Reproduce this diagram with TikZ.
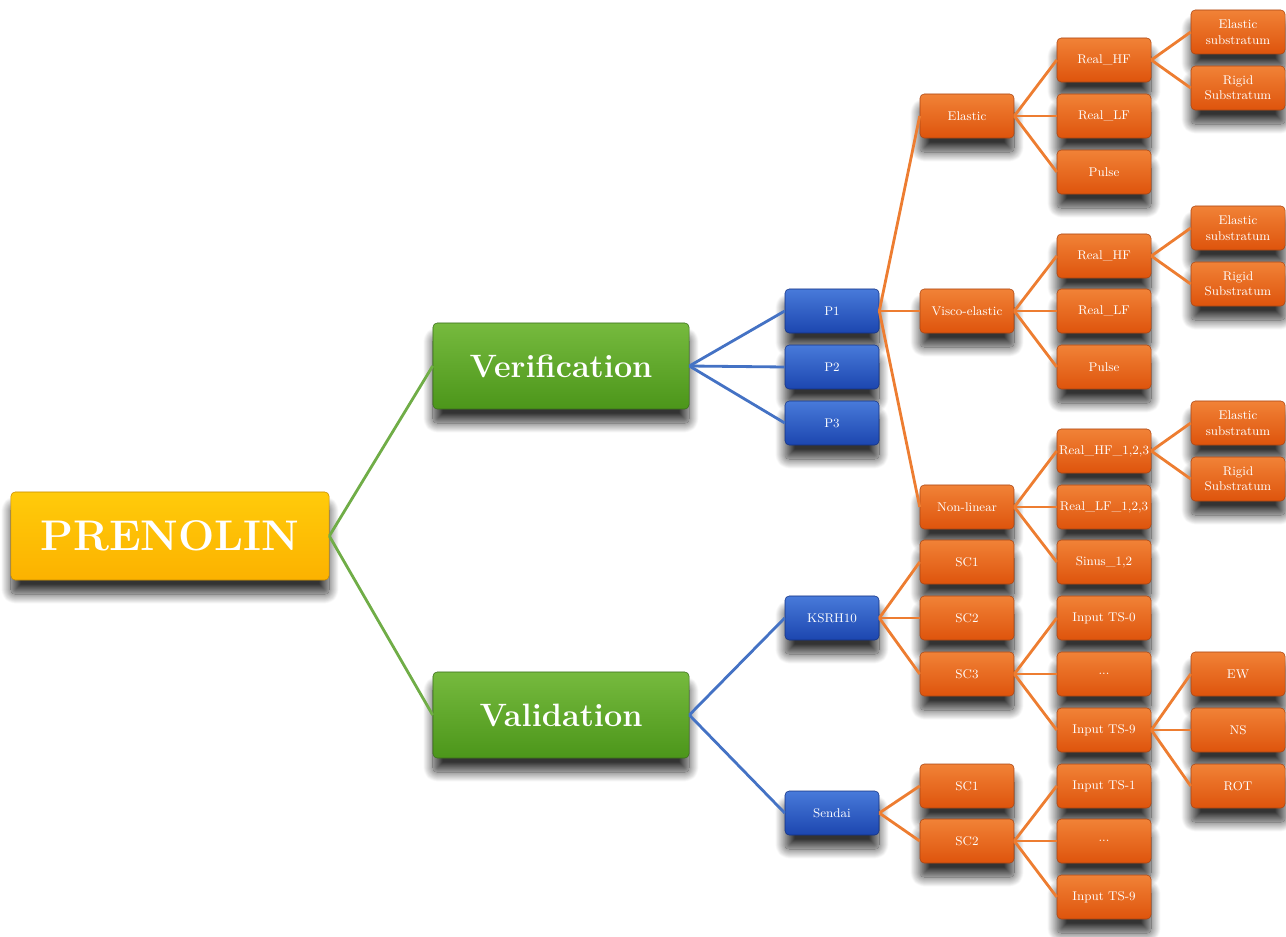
\documentclass[tikz,border=0pt]{standalone}
\usepackage{tikz}
\usetikzlibrary{shadows.blur}
\definecolor{offorange}{RGB}{237,125,49}
\definecolor{offblue}{RGB}{68,114,196}
\definecolor{offgreen}{RGB}{112,173,71}
\definecolor{orangetop}{RGB}{241,130,55}
\definecolor{orangebot}{RGB}{222,84,12}
\definecolor{orangedark}{RGB}{170,70,20}
\definecolor{bluetop}{RGB}{72,122,218}
\definecolor{bluebot}{RGB}{28,70,175}
\definecolor{bluedark}{RGB}{20,50,130}
\definecolor{greentop}{RGB}{118,186,62}
\definecolor{greenbot}{RGB}{76,150,26}
\definecolor{greendark}{RGB}{60,110,30}
\definecolor{yellowtop}{RGB}{255,203,10}
\definecolor{yellowbot}{RGB}{252,178,0}
\definecolor{yellowdark}{RGB}{200,140,0}

\begin{document}
\begin{tikzpicture}[x=0.025cm, y=-0.025cm,
        box/.style={draw, rounded corners=3pt, align=center, text=white, inner sep=1pt,
                    blur shadow={shadow xshift=0pt, shadow yshift=-10pt,
                                 shadow blur radius=7pt, shadow blur steps=25, shadow opacity=80}},
        obox/.style={box, minimum width=2.35cm, minimum height=1.1cm, font=\small,
                     draw=orangedark, top color=orangetop, bottom color=orangebot},
        bbox/.style={box, minimum width=2.35cm, minimum height=1.1cm, font=\small,
                     draw=bluedark, top color=bluetop, bottom color=bluebot},
        gbox/.style={box, minimum width=6.4cm, minimum height=2.15cm, font=\bfseries\fontsize{23}{28}\selectfont,
                     draw=greendark, top color=greentop, bottom color=greenbot},
        ybox/.style={box, minimum width=7.95cm, minimum height=2.2cm, font=\bfseries\fontsize{30.5}{36}\selectfont,
                     draw=yellowdark, top color=yellowtop, bottom color=yellowbot},
        gline/.style={draw=offgreen, line width=2pt},
        bline/.style={draw=offblue, line width=2pt},
        oline/.style={draw=offorange, line width=2pt}
    ]
    \useasboundingbox (0,0) rectangle (1286,937);

    \node[ybox] (root) at (170,536) {PRENOLIN};
    \node[gbox] (verif) at (561,366) {Verification};
    \node[gbox] (valid) at (561,715) {Validation};

    \node[bbox] (p1) at (832,311) {P1};
    \node[bbox] (p2) at (832,367) {P2};
    \node[bbox] (p3) at (832,423) {P3};
    \node[bbox] (ksrh) at (832,618) {KSRH10};
    \node[bbox] (sendai) at (832,813) {Sendai};

    \node[obox] (elastic) at (967,116) {Elastic};
    \node[obox] (visco) at (967,311) {Visco-elastic};
    \node[obox] (nonlin) at (967,507) {Non-linear};
    \node[obox] (ksc1) at (967,562) {SC1};
    \node[obox] (ksc2) at (967,618) {SC2};
    \node[obox] (ksc3) at (967,674) {SC3};
    \node[obox] (ssc1) at (967,786) {SC1};
    \node[obox] (ssc2) at (967,841) {SC2};

    \node[obox] (ehf) at (1104,60) {Real\_HF};
    \node[obox] (elf) at (1104,116) {Real\_LF};
    \node[obox] (epulse) at (1104,172) {Pulse};
    \node[obox] (vhf) at (1104,256) {Real\_HF};
    \node[obox] (vlf) at (1104,311) {Real\_LF};
    \node[obox] (vpulse) at (1104,367) {Pulse};
    \node[obox] (nhf) at (1104,451) {Real\_HF\_1,2,3};
    \node[obox] (nlf) at (1104,507) {Real\_LF\_1,2,3};
    \node[obox] (nsin) at (1104,562) {Sinus\_1,2};
    \node[obox] (tsa0) at (1104,618) {Input TS-0};
    \node[obox] (tsadots) at (1104,674) {...};
    \node[obox] (tsa9) at (1104,730) {Input TS-9};
    \node[obox] (tsb1) at (1104,786) {Input TS-1};
    \node[obox] (tsbdots) at (1104,841) {...};
    \node[obox] (tsb9) at (1104,897) {Input TS-9};

    \node[obox] (ehfel) at (1238,32) {Elastic\\substratum};
    \node[obox] (ehfrig) at (1238,88) {Rigid\\Substratum};
    \node[obox] (vhfel) at (1238,228) {Elastic\\substratum};
    \node[obox] (vhfrig) at (1238,284) {Rigid\\Substratum};
    \node[obox] (nhfel) at (1238,423) {Elastic\\substratum};
    \node[obox] (nhfrig) at (1238,479) {Rigid\\Substratum};
    \node[obox] (ew) at (1238,674) {EW};
    \node[obox] (ns) at (1238,730) {NS};
    \node[obox] (rot) at (1238,786) {ROT};

    \draw[gline] (root.east) -- (verif.west);
    \draw[gline] (root.east) -- (valid.west);

    \draw[bline] (verif.east) -- (p1.west);
    \draw[bline] (verif.east) -- (p2.west);
    \draw[bline] (verif.east) -- (p3.west);
    \draw[bline] (valid.east) -- (ksrh.west);
    \draw[bline] (valid.east) -- (sendai.west);

    \draw[oline] (p1.east) -- (elastic.west);
    \draw[oline] (p1.east) -- (visco.west);
    \draw[oline] (p1.east) -- (nonlin.west);
    \draw[oline] (ksrh.east) -- (ksc1.west);
    \draw[oline] (ksrh.east) -- (ksc2.west);
    \draw[oline] (ksrh.east) -- (ksc3.west);
    \draw[oline] (sendai.east) -- (ssc1.west);
    \draw[oline] (sendai.east) -- (ssc2.west);

    \draw[oline] (elastic.east) -- (ehf.west);
    \draw[oline] (elastic.east) -- (elf.west);
    \draw[oline] (elastic.east) -- (epulse.west);
    \draw[oline] (visco.east) -- (vhf.west);
    \draw[oline] (visco.east) -- (vlf.west);
    \draw[oline] (visco.east) -- (vpulse.west);
    \draw[oline] (nonlin.east) -- (nhf.west);
    \draw[oline] (nonlin.east) -- (nlf.west);
    \draw[oline] (nonlin.east) -- (nsin.west);
    \draw[oline] (ksc3.east) -- (tsa0.west);
    \draw[oline] (ksc3.east) -- (tsadots.west);
    \draw[oline] (ksc3.east) -- (tsa9.west);
    \draw[oline] (ssc2.east) -- (tsb1.west);
    \draw[oline] (ssc2.east) -- (tsbdots.west);
    \draw[oline] (ssc2.east) -- (tsb9.west);

    \draw[oline] (ehf.east) -- (ehfel.west);
    \draw[oline] (ehf.east) -- (ehfrig.west);
    \draw[oline] (vhf.east) -- (vhfel.west);
    \draw[oline] (vhf.east) -- (vhfrig.west);
    \draw[oline] (nhf.east) -- (nhfel.west);
    \draw[oline] (nhf.east) -- (nhfrig.west);
    \draw[oline] (tsa9.east) -- (ew.west);
    \draw[oline] (tsa9.east) -- (ns.west);
    \draw[oline] (tsa9.east) -- (rot.west);
\end{tikzpicture}
\end{document}
